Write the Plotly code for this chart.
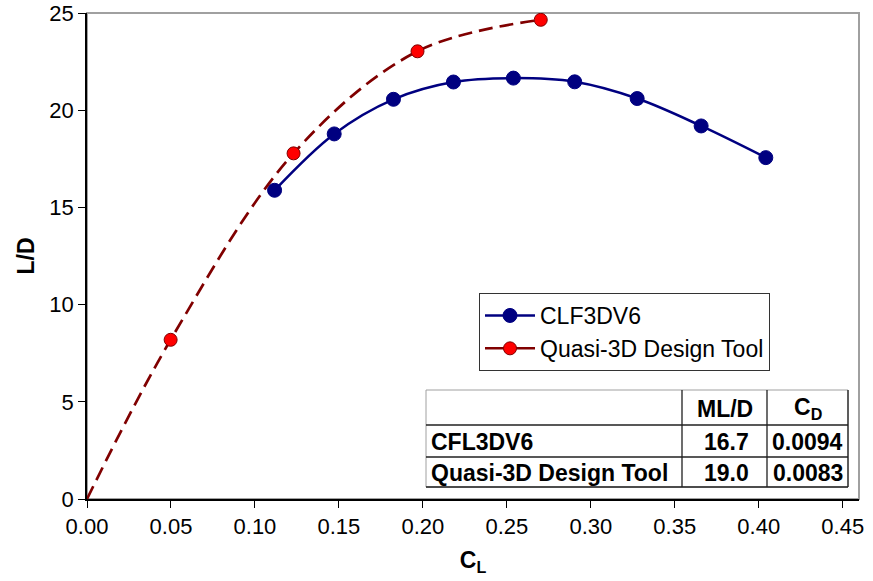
import plotly.graph_objects as go

# ---- data ----
clf_cl = [0.1117, 0.1472, 0.1825, 0.2182, 0.2539, 0.2904, 0.3276, 0.3657, 0.4042]
clf_ld = [15.88, 18.78, 20.56, 21.45, 21.65, 21.46, 20.60, 19.19, 17.56]

q3d_cl = [0.0, 0.0498, 0.1230, 0.1968, 0.2702]
q3d_ld = [0.0, 8.19, 17.78, 23.03, 24.65]

series_names = ["CLF3DV6", "Quasi-3D Design Tool"]

table_headers = ["ML/D", "C<sub>D</sub>"]
table_rows = ["CFL3DV6", "Quasi-3D Design Tool"]
table_mld = [16.7, 19.0]
table_cd = [0.0094, 0.0083]

x_ticks = [0.00, 0.05, 0.10, 0.15, 0.20, 0.25, 0.30, 0.35, 0.40, 0.45]
y_ticks = [0, 5, 10, 15, 20, 25]

# ---- styling ----
BLUE = "#000080"
DKRED = "#800000"
RED = "#FF0000"
FONT = "Liberation Sans, Arial, sans-serif"

W, H = 873, 581
# plot area in window pixels
PX0, PX1, PY0, PY1 = 87, 859, 13, 499
ML, MT = PX0, PY0
MR, MB = W - PX1, H - PY1
PW, PH = PX1 - PX0, PY1 - PY0


def px(xp):
    return (xp - PX0) / PW


def py(yp):
    return (PY1 - yp) / PH


fig = go.Figure()

fig.add_trace(go.Scatter(
    x=clf_cl, y=clf_ld, mode="lines+markers", name=series_names[0],
    line=dict(color=BLUE, width=2.5, shape="spline", smoothing=1.0),
    marker=dict(color=BLUE, size=14, opacity=1, line=dict(color=BLUE, width=1)),
    legendgroup="a",
))

# red series drawn without a legend entry (origin point has no marker)
fig.add_trace(go.Scatter(
    x=q3d_cl, y=q3d_ld, mode="lines+markers", showlegend=False,
    line=dict(color=DKRED, width=2.7, dash="14px,7px", shape="spline", smoothing=1.0),
    marker=dict(color=RED, size=[0] + [13] * (len(q3d_cl) - 1), opacity=1,
                line=dict(color=DKRED, width=[0] + [1] * (len(q3d_cl) - 1))),
))
# legend entry for the red series
fig.add_trace(go.Scatter(
    x=[None], y=[None], mode="lines+markers", name=series_names[1],
    line=dict(color=DKRED, width=2.5),
    marker=dict(color=RED, size=13, opacity=1, line=dict(color=DKRED, width=1)),
    legendgroup="b",
))

# ---- table (shapes + annotations) ----
tx0, tx1 = 426, 848
ty = [390, 425, 457, 487]
cx = [426, 682, 767, 848]
shapes = []
shapes.append(dict(type="rect", xref="paper", yref="paper",
                   x0=0, x1=1, y0=0, y1=1, line=dict(color="#A0A0A0", width=2),
                   layer="below"))
shapes.append(dict(type="rect", xref="paper", yref="paper",
                   x0=px(tx0), x1=px(tx1), y0=py(ty[3]), y1=py(ty[0]),
                   fillcolor="white", line=dict(color="#A0A0A0", width=1), layer="above"))
for yy in ty[1:]:
    shapes.append(dict(type="line", xref="paper", yref="paper",
                       x0=px(tx0), x1=px(tx1), y0=py(yy), y1=py(yy),
                       line=dict(color="#202020", width=1.3), layer="above"))
for xx in cx[1:]:
    shapes.append(dict(type="line", xref="paper", yref="paper",
                       x0=px(xx), x1=px(xx), y0=py(ty[3]), y1=py(ty[0]),
                       line=dict(color="#202020", width=1.3), layer="above"))

annotations = []
TF = dict(family=FONT, size=23, color="black")
rowc = [(ty[i] + ty[i + 1]) / 2 + 1 for i in range(3)]
for j, htxt in enumerate(table_headers):
    annotations.append(dict(xref="paper", yref="paper", x=px((cx[j + 1] + cx[j + 2]) / 2),
                            y=py(rowc[0]), text="<b>%s</b>" % htxt, showarrow=False,
                            xanchor="center", yanchor="middle", font=TF))
for i, name in enumerate(table_rows):
    annotations.append(dict(xref="paper", yref="paper", x=px(cx[0] + 3), y=py(rowc[i + 1]),
                            text="<b>%s</b>" % name, showarrow=False,
                            xanchor="left", yanchor="middle", font=TF))
    annotations.append(dict(xref="paper", yref="paper", x=px((cx[1] + cx[2]) / 2 + 2),
                            y=py(rowc[i + 1]), text="<b>%.1f</b>" % table_mld[i],
                            showarrow=False, xanchor="center", yanchor="middle", font=TF))
    annotations.append(dict(xref="paper", yref="paper", x=px((cx[2] + cx[3]) / 2),
                            y=py(rowc[i + 1]), text="<b>%.4f</b>" % table_cd[i],
                            showarrow=False, xanchor="center", yanchor="middle", font=TF))

fig.update_layout(
    width=W, height=H,
    margin=dict(l=ML, r=MR, t=MT, b=MB, autoexpand=False),
    paper_bgcolor="white", plot_bgcolor="white",
    font=dict(family=FONT, size=22, color="black"),
    showlegend=True,
    legend=dict(
        x=px(479), y=py(293), xanchor="left", yanchor="top",
        bgcolor="white", bordercolor="#333333", borderwidth=1,
        font=dict(family=FONT, size=23, color="black"),
        tracegroupgap=18, itemwidth=50, traceorder="normal",
    ),
    xaxis=dict(
        range=[0, 0.4597], tickvals=x_ticks, tickformat=".2f", automargin=False,
        ticklabeloverflow="allow",
        showgrid=False, zeroline=False, showline=True, linecolor="black", linewidth=1.5,
        ticks="outside", ticklen=7, tickcolor="black", tickwidth=1.2,
        tickfont=dict(family=FONT, size=22, color="black"),
        title=dict(text="<b>C<sub>L</sub></b>", font=dict(family=FONT, size=23, color="black"),
                   standoff=14),
    ),
    yaxis=dict(
        range=[0, 25], tickvals=y_ticks, automargin=False,
        ticklabeloverflow="allow",
        showgrid=False, zeroline=False, showline=True, linecolor="black", linewidth=1.5,
        ticks="outside", ticklen=7, tickcolor="black", tickwidth=1.2,
        tickfont=dict(family=FONT, size=22, color="black"),
        title=dict(text="<b>L/D</b>", font=dict(family=FONT, size=23, color="black"),
                   standoff=8),
    ),
    shapes=shapes,
    annotations=annotations,
)

fig.write_html("out.html", config={"displayModeBar": False},
               post_script="document.body.style.margin='0';document.body.style.padding='0';")
